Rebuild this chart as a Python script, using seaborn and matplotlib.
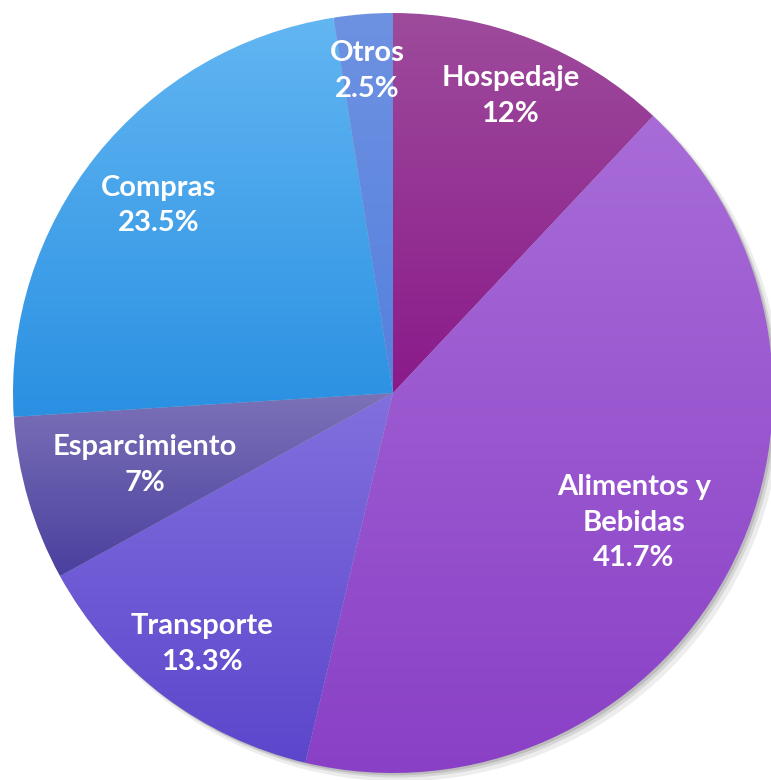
import numpy as np
import matplotlib.pyplot as plt
import matplotlib.patches as mpatches
import seaborn as sns

# Data
categories = ["Hospedaje", "Alimentos y\nBebidas", "Transporte", "Esparcimiento", "Compras", "Otros"]
shares = [12, 41.7, 13.3, 7, 23.5, 2.5]
share_labels = ["12%", "41.7%", "13.3%", "7%", "23.5%", "2.5%"]

# gradient (top, bottom) per slice
SLICE_COLORS = [
    ("#9e4b9c", "#8a1a8a"),
    ("#a86cd8", "#8a40c6"),
    ("#8270de", "#5c46cc"),
    ("#7c72b8", "#4a409e"),
    ("#62b6f2", "#2a90e2"),
    ("#6e92e2", "#5580de"),
]
LABEL_RADIUS = [0.84, 0.72, 0.83, 0.68, 0.79, 0.85]

sns.set_theme(style="white")
plt.rcParams["font.family"] = ["Lato", "DejaVu Sans"]

fig = plt.figure(figsize=(7.71, 7.80), dpi=100)
ax = fig.add_axes([0, 0, 1, 1])

# soft drop shadow
for off, a, rr in [(0.018, 0.10, 1.004), (0.012, 0.15, 1.0), (0.006, 0.2, 1.0)]:
    ax.add_patch(mpatches.Circle((off, -off), rr, color="#555555", alpha=a, lw=0, zorder=0))

wedges, _ = ax.pie(shares, startangle=90, counterclock=False, radius=1,
                   wedgeprops=dict(linewidth=0))

for w, (top, bottom), lab, pct, lr in zip(wedges, SLICE_COLORS, categories, share_labels, LABEL_RADIUS):
    w.set_facecolor("none")
    ext = w.get_path().get_extents()
    cmap = sns.blend_palette([bottom, top], n_colors=256, as_cmap=True)
    grad = np.linspace(0, 1, 256).reshape(-1, 1)
    im = ax.imshow(grad, cmap=cmap, origin="lower", aspect="auto",
                   extent=[ext.x0, ext.x1, ext.y0, ext.y1], zorder=1)
    im.set_clip_path(w)
    mid = np.deg2rad((w.theta1 + w.theta2) / 2)
    ax.text(lr * np.cos(mid), lr * np.sin(mid), f"{lab}\n{pct}",
            ha="center", va="center", color="white", fontsize=21,
            fontweight="bold", linespacing=1.45, zorder=3)

ax.set_aspect("auto")
ax.set_xlim(-393 / 380, (771 - 393) / 380)
ax.set_ylim(-(780 - 393) / 380, 393 / 380)
ax.axis("off")

fig.savefig("out.png", dpi=100)
